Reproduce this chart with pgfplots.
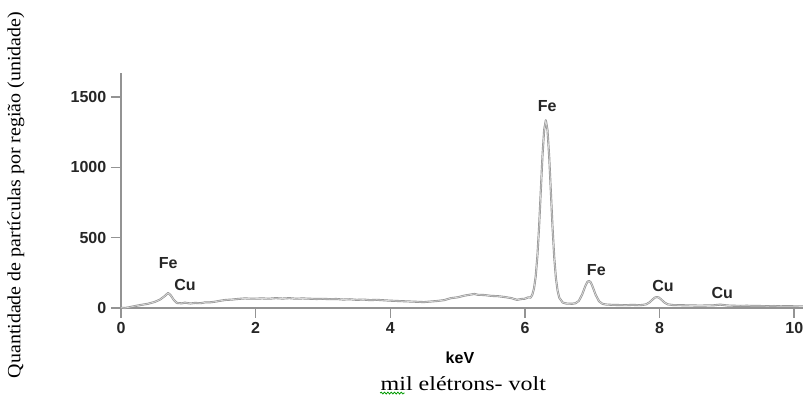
\documentclass[border=0pt]{standalone}
\usepackage{fontspec}
\setmainfont{Liberation Serif}
\setsansfont{Liberation Sans}
\usepackage{pgfplots}
\pgfplotsset{compat=1.18}
\usetikzlibrary{decorations.pathmorphing}
\begin{document}
\begin{tikzpicture}
\begin{axis}[
  scale only axis,
  width=511.5pt, height=176.25pt,
  xmin=0, xmax=10.13, ymin=0, ymax=1671,
  axis x line*=bottom, axis y line*=left,
  axis line style={gray!85, line width=1.5pt, -},
  xtick={0,2,4,6,8,10}, ytick={0,500,1000,1500},
  tick align=outside, major tick length=7.5pt,
  tick style={gray!85, line width=1.2pt},
  /pgf/number format/assume math mode=true,
  ticklabel style={font=\sffamily\bfseries\fontsize{12}{14}\selectfont, text=black!85},
  scaled y ticks=false,
  yticklabel style={/pgf/number format/1000 sep={}},
  xlabel={\sffamily\bfseries keV},
  every axis x label/.style={at={(axis description cs:0.497,-0.213)}, anchor=center, font=\fontsize{12}{14}\selectfont},
  ylabel={\scalebox{1.07}[1]{Quantidade de partículas por região (unidade)}},
  every axis y label/.style={at={(axis description cs:-0.154,0.481)}, anchor=center, rotate=90, font=\fontsize{14}{16}\selectfont},
  clip=false,
]
\addplot[draw=gray!85, line width=0.5pt, double=gray!30, double distance=0.55pt, line join=round] coordinates {
(0.00,2) (0.06,0) (0.12,5) (0.21,14) (0.30,22) (0.40,30) (0.50,43) (0.58,60) (0.65,85) (0.70,107) (0.74,90) (0.78,60) (0.83,36) (0.90,33) (0.95,38) (1.03,32) (1.10,36) (1.18,34) (1.25,40) (1.32,40) (1.40,45) (1.48,52) (1.55,57) (1.65,60) (1.75,65) (1.84,68) (1.95,66)
(2.1,68) (2.2,66) (2.3,70) (2.4,67) (2.5,70) (2.6,66) (2.7,68) (2.8,66) (2.9,64) (3.0,65) (3.1,63) (3.2,64) (3.3,60) (3.4,62) (3.5,58) (3.6,60) (3.7,56) (3.8,58) (3.9,55) (4.0,52) (4.1,50) (4.2,48) (4.3,46) (4.4,44) (4.5,42) (4.6,46) (4.7,50) (4.8,56) (4.9,70) (5.0,76) (5.1,88) (5.2,96) (5.25,100) (5.3,94) (5.4,92) (5.5,86) (5.6,84) (5.7,78) (5.8,70) (5.88,58) (5.95,64) (6.0,66) (6.05,76)
(6.085,74) (6.11,95) (6.135,140) (6.16,226) (6.185,371) (6.21,578) (6.235,830) (6.26,1079) (6.285,1265) (6.31,1335) (6.335,1264) (6.36,1076) (6.385,825) (6.41,571) (6.435,361) (6.46,212) (6.485,122) (6.51,73) (6.56,39) (6.61,32) (6.65,31)
(6.70,30) (6.75,34) (6.80,50) (6.85,96) (6.875,128) (6.90,160) (6.925,184) (6.95,193) (6.975,184) (7.00,158) (7.025,126) (7.05,94) (7.10,48) (7.15,30) (7.20,25) (7.3,22) (7.4,21) (7.5,20) (7.6,22) (7.7,20) (7.75,22)
(7.80,26) (7.85,40) (7.90,62) (7.93,74) (7.96,78) (7.99,74) (8.02,62) (8.07,40) (8.12,26) (8.2,21) (8.3,20) (8.4,19) (8.5,18) (8.6,17) (8.7,18) (8.8,19) (8.9,24) (9.0,18) (9.1,16) (9.2,15) (9.3,16) (9.4,14) (9.5,14) (9.6,13) (9.7,14) (9.8,12) (9.9,13) (10.0,12) (10.13,11)
};
\begin{scope}[every node/.style={font=\sffamily\bfseries\fontsize{12}{14}\selectfont, text=black!85}]
\node at (axis cs:0.70,320) {Fe};
\node at (axis cs:0.95,164) {Cu};
\node at (axis cs:6.33,1437) {Fe};
\node at (axis cs:7.06,270) {Fe};
\node at (axis cs:8.05,156) {Cu};
\node at (axis cs:8.93,107) {Cu};
\end{scope}
\node[font=\fontsize{15}{17}\selectfont] at (axis description cs:0.502,-0.323) {\scalebox{1.2}[1]{mil elétrons- volt}};
\draw[green!60!black, line width=0.6pt, decorate, decoration={snake, amplitude=0.7pt, segment length=2.5pt}] (axis description cs:0.380,-0.362) -- (axis description cs:0.416,-0.362);
\end{axis}
\pgfresetboundingbox
\path[use as bounding box] (-90.75pt,-67.5pt) rectangle (511.5pt,231pt);
\end{tikzpicture}
\end{document}
